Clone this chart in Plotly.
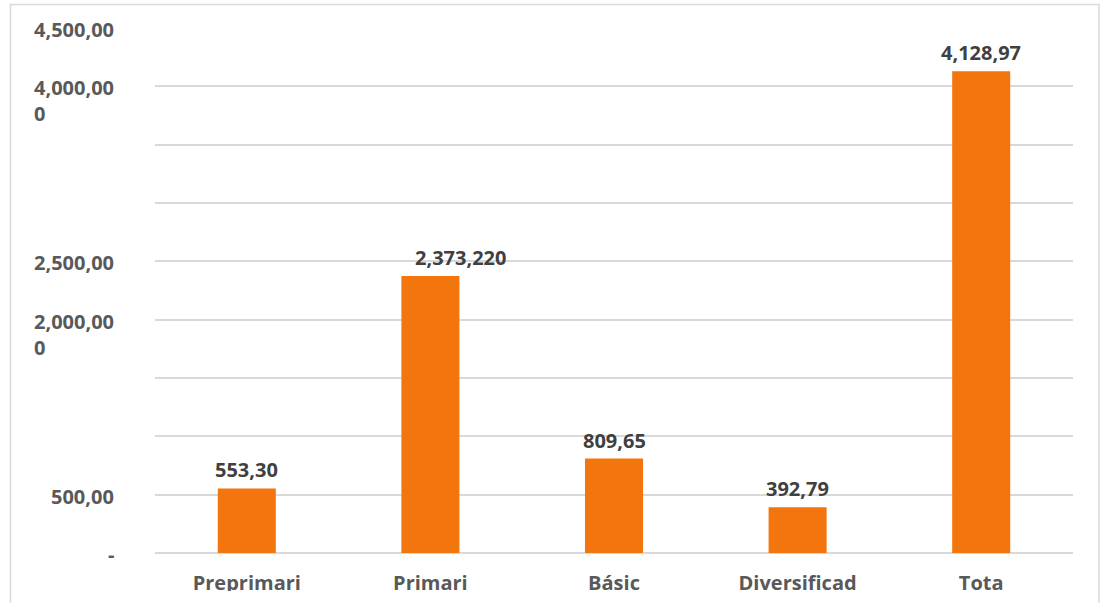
import plotly.graph_objects as go

categories = ["Preprimari", "Primari", "Básic", "Diversificad", "Tota"]
values = [553.30, 2373.22, 809.65, 392.79, 4128.97]
value_labels = ["553,30", "2,373,220", "809,65", "392,79", "4,128,97"]
label_xshift = [0, 30, 0, 0, 0]

y_ticks = [0, 500, 1000, 1500, 2000, 2500, 3000, 3500, 4000, 4500]
y_tick_labels = ["-", "500,00", "", "", "2,000,00\n0", "2,500,00", "", "", "4,000,00\n0", "4,500,00"]

W, H = 1101, 603
L, R, T, B = 155, 28, 28, 50
PW, PH = W - L - R, H - T - B

BAR = "#F2750E"
AXIS_TXT = "#595959"
LBL_TXT = "#404040"
GRID = "#D9D9D9"
FONT = "Open Sans"

fig = go.Figure()
fig.add_trace(go.Bar(
    x=categories, y=values, marker=dict(color=BAR, line=dict(width=0)),
    width=0.316, hoverinfo="skip", cliponaxis=False,
))

annotations = []
for c, v, t, dx in zip(categories, values, value_labels, label_xshift):
    annotations.append(dict(
        x=c, y=v, xref="x", yref="y", text=t, showarrow=False,
        xanchor="center", yanchor="bottom", yshift=3, xshift=dx,
        font=dict(family=FONT, size=20, color=LBL_TXT, weight="bold"),
    ))

for v, t in zip(y_ticks, y_tick_labels):
    if not t:
        continue
    annotations.append(dict(
        x=(116 - L) / PW, y=v, xref="paper", yref="y",
        text=t.replace("\n", "<br>"), showarrow=False, align="left",
        xanchor="right", yanchor="top", yshift=14,
        font=dict(family=FONT, size=20, color=AXIS_TXT, weight="bold"),
    ))

def px(xp):
    return (xp - L) / PW

def py(yp):
    return (H - B - yp) / PH

shapes = [
    # chart frame
    dict(type="rect", xref="paper", yref="paper",
         x0=px(10.5), x1=px(1099), y0=py(640), y1=py(4.5),
         line=dict(color=GRID, width=1.5), fillcolor="rgba(0,0,0,0)", layer="below"),
    # clipping strip at the bottom of the picture
    dict(type="rect", xref="paper", yref="paper",
         x0=px(140), x1=px(1095), y0=py(610), y1=py(591),
         line=dict(width=0), fillcolor="white", layer="above"),
]

fig.update_layout(
    width=W, height=H,
    margin=dict(l=L, r=R, t=T, b=B, autoexpand=False),
    paper_bgcolor="white", plot_bgcolor="white",
    showlegend=False, bargap=0.684,
    annotations=annotations, shapes=shapes,
    font=dict(family=FONT),
)
fig.update_yaxes(
    range=[0, 4500], tickvals=y_ticks, showticklabels=False,
    showgrid=True, gridcolor=GRID, gridwidth=1.5,
    zeroline=True, zerolinecolor=GRID, zerolinewidth=1.5, showline=False,
    fixedrange=True,
)
fig.update_xaxes(
    showgrid=False, showline=False, ticks="", ticklabelstandoff=16,
    tickfont=dict(family=FONT, size=20, color=AXIS_TXT, weight="bold"),
    fixedrange=True,
)

fig.write_html(
    "out.html",
    config={"displayModeBar": False},
    post_script="document.body.style.margin='0';document.body.style.overflow='hidden';",
)
